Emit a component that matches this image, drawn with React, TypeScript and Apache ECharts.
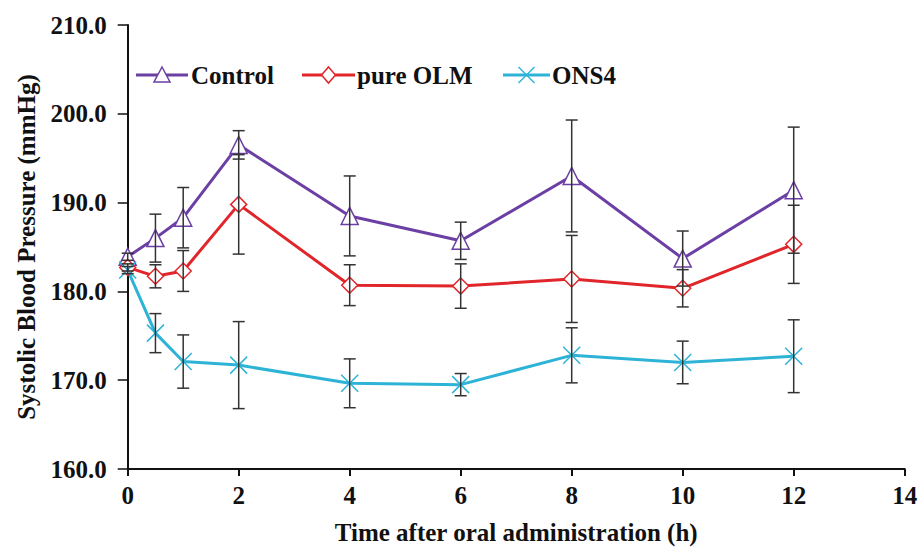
import React, { useEffect, useRef } from "react";
import * as echarts from "echarts";

// Time points (h) after oral administration
const timeH = [0, 0.5, 1, 2, 4, 6, 8, 10, 12];

// Mean systolic blood pressure (mmHg) and SD for each group
const control = [183.9, 186.0, 188.3, 196.5, 188.5, 185.7, 193.0, 183.7, 191.4];
const controlSd = [0.4, 2.7, 3.4, 1.6, 4.5, 2.1, 6.3, 3.1, 7.1];

const pureOlm = [182.7, 181.7, 182.3, 189.8, 180.7, 180.6, 181.4, 180.35, 185.3];
const pureOlmSd = [0.4, 1.3, 2.3, 5.6, 2.3, 2.5, 4.9, 2.1, 4.4];

const ons4 = [182.4, 175.3, 172.1, 171.7, 169.65, 169.5, 172.8, 172.0, 172.7];
const ons4Sd = [0.4, 2.2, 3.0, 4.9, 2.75, 1.25, 3.1, 2.4, 4.1];

const seriesNames = ["Control", "pure OLM", "ONS4"];

const FONT = "'Liberation Serif', 'Times New Roman', serif";
const COLORS = ["#6B3FA3", "#E0262A", "#2DB3D6"];

const starSymbol = "path://M0,0L10,10M10,0L0,10";

function pairs(values: number[]) {
  return timeH.map((t, i) => [t, values[i]]);
}

function errorData(values: number[], sd: number[]) {
  return timeH.map((t, i) => [t, values[i] - sd[i], values[i] + sd[i]]);
}

function errorSeries(values: number[], sd: number[]) {
  return {
    type: "custom",
    data: errorData(values, sd),
    encode: { x: 0, y: [1, 2] },
    z: 4,
    silent: true,
    renderItem: (_params: any, api: any) => {
      const x = api.value(0);
      const top = api.coord([x, api.value(2)]);
      const bot = api.coord([x, api.value(1)]);
      const cap = 6;
      const style = { stroke: "#333", lineWidth: 1.5 };
      return {
        type: "group",
        children: [
          { type: "line", shape: { x1: top[0], y1: top[1], x2: bot[0], y2: bot[1] }, style },
          { type: "line", shape: { x1: top[0] - cap, y1: top[1], x2: top[0] + cap, y2: top[1] }, style },
          { type: "line", shape: { x1: bot[0] - cap, y1: bot[1], x2: bot[0] + cap, y2: bot[1] }, style },
        ],
      };
    },
  };
}

// Legend key drawn as graphic elements: a line sample, the marker and the label
function legendMarker(kind: string, cx: number, cy: number, color: string) {
  const r = 8;
  if (kind === "triangle") {
    return {
      type: "polygon",
      shape: { points: [[cx, cy - r], [cx + r, cy + r - 1], [cx - r, cy + r - 1]] },
      style: { fill: "#fff", stroke: color, lineWidth: 1.5 },
    };
  }
  if (kind === "diamond") {
    return {
      type: "polygon",
      shape: { points: [[cx, cy - r], [cx + r - 1, cy], [cx, cy + r], [cx - r + 1, cy]] },
      style: { fill: "#fff", stroke: color, lineWidth: 1.5 },
    };
  }
  return {
    type: "group",
    children: [
      { type: "line", shape: { x1: cx - r, y1: cy - r, x2: cx + r, y2: cy + r }, style: { stroke: color, lineWidth: 1.5 } },
      { type: "line", shape: { x1: cx + r, y1: cy - r, x2: cx - r, y2: cy + r }, style: { stroke: color, lineWidth: 1.5 } },
    ],
  };
}

function legendItem(name: string, kind: string, color: string, x0: number, x1: number, textX: number) {
  const cy = 75;
  return {
    type: "group",
    z: 10,
    children: [
      { type: "line", shape: { x1: x0, y1: cy, x2: x1, y2: cy }, style: { stroke: color, lineWidth: 3 } },
      legendMarker(kind, (x0 + x1) / 2, cy, color),
      {
        type: "text",
        x: textX,
        y: cy,
        style: {
          text: name,
          fill: "#111",
          font: `bold 25px ${FONT}`,
          verticalAlign: "middle",
          align: "left",
        },
      },
    ],
  };
}

export default function App() {
  const ref = useRef<HTMLDivElement>(null);

  useEffect(() => {
    if (!ref.current) return;
    const chart = echarts.init(ref.current, undefined, { renderer: "svg" });

    const labelStyle = { fontFamily: FONT, fontWeight: "bold", fontSize: 25, color: "#111" };

    chart.setOption({
      animation: false,
      backgroundColor: "#fff",
      textStyle: { fontFamily: FONT },
      grid: { left: 127.7, right: 17.3, top: 25, bottom: 79, outerBoundsMode: "none" },
      graphic: [
        legendItem(seriesNames[0], "triangle", COLORS[0], 136, 188, 191),
        legendItem(seriesNames[1], "diamond", COLORS[1], 302, 355, 357),
        legendItem(seriesNames[2], "star", COLORS[2], 503, 550, 552),
      ],
      xAxis: {
        type: "value",
        min: 0,
        max: 14,
        interval: 2,
        name: "Time after oral administration (h)",
        nameLocation: "middle",
        nameGap: 51,
        nameTextStyle: labelStyle,
        axisLine: { lineStyle: { color: "#111", width: 2 } },
        axisTick: { length: 7, lineStyle: { color: "#111", width: 2 } },
        axisLabel: { ...labelStyle, margin: 14 },
        splitLine: { show: false },
      },
      yAxis: {
        type: "value",
        min: 160,
        max: 210,
        interval: 10,
        name: "Systolic Blood Pressure (mmHg)",
        nameLocation: "middle",
        nameGap: 89,
        nameTextStyle: labelStyle,
        axisLine: { show: true, lineStyle: { color: "#111", width: 2 } },
        axisTick: { show: true, length: 10, lineStyle: { color: "#111", width: 1.5 } },
        axisLabel: { ...labelStyle, margin: 21, formatter: (v: number) => v.toFixed(1) },
        splitLine: { show: false },
      },
      series: [
        {
          name: seriesNames[0],
          type: "line",
          data: pairs(control),
          symbol: "triangle",
          symbolSize: 17,
          z: 3,
          lineStyle: { color: COLORS[0], width: 3 },
          itemStyle: { color: "#fff", borderColor: COLORS[0], borderWidth: 1.5 },
        },
        {
          name: seriesNames[1],
          type: "line",
          data: pairs(pureOlm),
          symbol: "diamond",
          symbolSize: 16,
          z: 3,
          lineStyle: { color: COLORS[1], width: 3 },
          itemStyle: { color: "#fff", borderColor: COLORS[1], borderWidth: 1.5 },
        },
        {
          name: seriesNames[2],
          type: "line",
          data: pairs(ons4),
          symbol: starSymbol,
          symbolSize: 17,
          z: 3,
          lineStyle: { color: COLORS[2], width: 3 },
          itemStyle: { color: COLORS[2], borderColor: COLORS[2], borderWidth: 1.5 },
        },
        errorSeries(control, controlSd),
        errorSeries(pureOlm, pureOlmSd),
        errorSeries(ons4, ons4Sd),
      ],
    });

    return () => chart.dispose();
  }, []);

  return (
    <div
      ref={ref}
      style={{ position: "fixed", left: 0, top: 0, width: 922, height: 548, background: "#fff" }}
    />
  );
}
